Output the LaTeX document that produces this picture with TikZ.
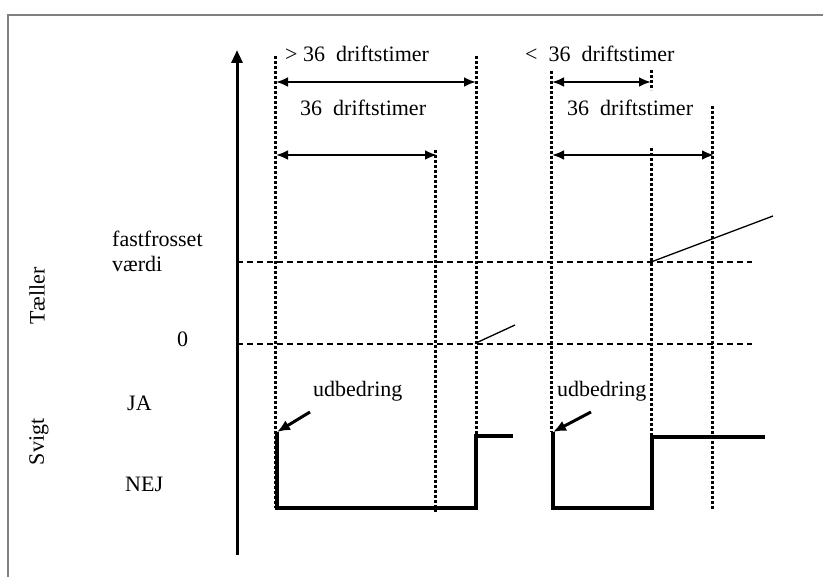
\documentclass[tikz,border=0pt]{standalone}
\usepackage{fontspec}
\setmainfont{Liberation Serif}
\usetikzlibrary{arrows.meta}
\begin{document}
\begin{tikzpicture}[x=1pt,y=-1pt,
  lbl/.style={anchor=base west,inner sep=0pt,font=\fontsize{22}{24}\selectfont},
  rlbl/.style={rotate=90,inner sep=0pt,font=\fontsize{22}{24}\selectfont},
  frame/.style={gray,line width=1.2pt},
  axis/.style={line width=3pt,-{Triangle[length=13pt,width=11pt]}},
  vdot/.style={line width=3pt,dash pattern=on 3pt off 2pt},
  hdash/.style={line width=2.2pt,dash pattern=on 6pt off 4pt},
  dim/.style={line width=2.6pt,{Latex[length=12pt,width=10pt]}-{Latex[length=12pt,width=10pt]}},
  sig/.style={line width=4.5pt,line join=miter},
  thin/.style={line width=1.3pt},
  pointer/.style={line width=3pt,-{Latex[length=13pt,width=11pt]}}]
\useasboundingbox (0,0) rectangle (823,577);
% frame (top and left only)
\coordinate (fTR) at (823,15); \coordinate (fTL) at (8,15); \coordinate (fBL) at (8,577);
\draw[frame] (fTR) -- (fTL) -- (fBL);
% main axis
\coordinate (ax0) at (237,555); \coordinate (ax1) at (237,50);
\draw[axis] (ax0) -- (ax1);
% vertical dotted lines
\coordinate (v1t) at (275,56);  \coordinate (v1b) at (275,508);
\coordinate (v2t) at (435,150); \coordinate (v2b) at (435,512);
\coordinate (v3t) at (476,56);  \coordinate (v3b) at (476,436);
\coordinate (v4t) at (551,71);  \coordinate (v4b) at (551,432);
\coordinate (v5t) at (651,70);  \coordinate (v5m) at (651,90);
\coordinate (v5n) at (651,148); \coordinate (v5b) at (651,437);
\coordinate (v6t) at (712,106); \coordinate (v6b) at (712,510);
\draw[vdot] (v1t) -- (v1b);
\draw[vdot] (v2t) -- (v2b);
\draw[vdot] (v3t) -- (v3b);
\draw[vdot] (v4t) -- (v4b);
\draw[vdot] (v5t) -- (v5m);
\draw[vdot] (v5n) -- (v5b);
\draw[vdot] (v6t) -- (v6b);
% horizontal dashed lines
\coordinate (h1a) at (237,262); \coordinate (h1b) at (752,262);
\coordinate (h2a) at (237,344); \coordinate (h2b) at (752,344);
\draw[hdash] (h1a) -- (h1b);
\draw[hdash] (h2a) -- (h2b);
% dimension arrows
\coordinate (d1a) at (276,82);  \coordinate (d1b) at (476,82);
\coordinate (d2a) at (276,155); \coordinate (d2b) at (437,155);
\coordinate (d3a) at (552,82);  \coordinate (d3b) at (651,82);
\coordinate (d4a) at (552,155); \coordinate (d4b) at (714,155);
\draw[dim] (d1a) -- (d1b);
\draw[dim] (d2a) -- (d2b);
\draw[dim] (d3a) -- (d3b);
\draw[dim] (d4a) -- (d4b);
% labels
\node[lbl] (t1) at (285,62) {>\ 36\ \ driftstimer};
\node[lbl] (t2) at (300,116) {36\ \ driftstimer};
\node[lbl] (t3) at (525,62) {<\ \ 36\ \ driftstimer};
\node[lbl] (t4) at (567,116) {36\ \ driftstimer};
\node[lbl] (ff) at (112,247) {fastfrosset};
\node[lbl] (vd) at (112,272) {værdi};
\node[lbl] (zero) at (177,347) {0};
\node[lbl] (ja) at (127,411) {JA};
\node[lbl] (nej) at (125,492) {NEJ};
\node[lbl] (ud1) at (313,397) {udbedring};
\node[lbl] (ud2) at (557,397) {udbedring};
\node[rlbl] (tael) at (37,296) {Tæller};
\node[rlbl] (svigt) at (39,442) {Svigt};
% thin slanted lines
\coordinate (s1a) at (476,343); \coordinate (s1b) at (515,325);
\coordinate (s2a) at (651,262); \coordinate (s2b) at (773,216);
\draw[thin] (s1a) -- (s1b);
\draw[thin] (s2a) -- (s2b);
% signals
\coordinate (p1) at (277,432); \coordinate (p2) at (277,508); \coordinate (p3) at (476,508);
\coordinate (p4) at (476,436); \coordinate (p5) at (513,436);
\draw[sig] (p1) -- (p2) -- (p3) -- (p4) -- (p5);
\coordinate (q1) at (553,432); \coordinate (q2) at (553,508); \coordinate (q3) at (652,508);
\coordinate (q4) at (652,437); \coordinate (q5) at (765,437);
\draw[sig] (q1) -- (q2) -- (q3) -- (q4) -- (q5);
% udbedring pointers
\coordinate (u1) at (310,412); \coordinate (u2) at (591,412);
\draw[pointer] (u1) -- (p1);
\draw[pointer] (u2) -- (q1);
\end{tikzpicture}
\end{document}
